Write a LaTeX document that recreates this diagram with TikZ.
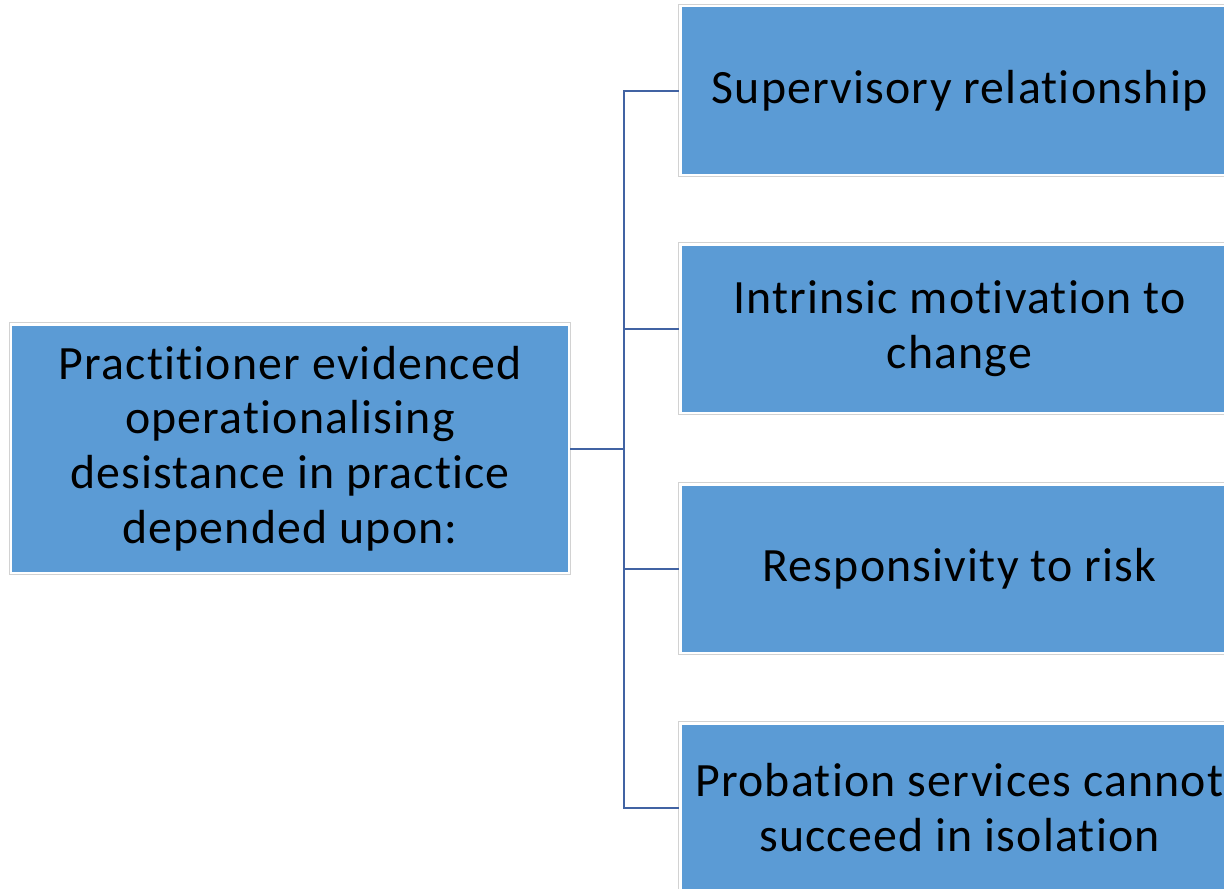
\documentclass[tikz,border=0pt]{standalone}
\usepackage{fontspec}
\setmainfont[Ligatures=NoCommon,LetterSpace=2.5]{Carlito}
\usepackage{tikz}
\usetikzlibrary{calc}

\definecolor{boxblue}{HTML}{5B9BD5}
\definecolor{linkblue}{HTML}{4163A3}
\definecolor{framegray}{HTML}{D2D2D2}

\tikzset{
  topic/.style={fill=boxblue,inner sep=0pt,align=center,
    font=\fontsize{48}{55}\selectfont,text=black},
  frame/.style={draw=framegray,line width=1bp},
  link/.style={draw=linkblue,line width=2bp},
}

\begin{document}
\begin{tikzpicture}[x=1bp,y=-1bp]
\useasboundingbox (0,0) rectangle (1224,889);
\clip (0,0) rectangle (1224,889);
%%
\node (main) at (290,448.5) [topic,minimum width=555bp,minimum height=246bp]
  {Practitioner evidenced\\operationalising\\desistance in practice\\depended upon:};
  \node (sup) at (959.5,90.5) [topic,minimum width=556bp,minimum height=166bp] {Supervisory relationship};
  \node (mot) at (959.5,328.5) [topic,minimum width=556bp,minimum height=166bp] {Intrinsic motivation to\\change};
  \node (risk) at (959.5,568.5) [topic,minimum width=556bp,minimum height=166bp] {Responsivity to risk};
  \node (iso) at (959.5,807.5) [topic,minimum width=556bp,minimum height=166bp] {Probation services cannot\\succeed in isolation};
  \foreach \n in {main,sup,mot,risk,iso}
    \draw [frame] ($(\n.north west)+(-2.5,-2.5)$) rectangle ($(\n.south east)+(2.5,2.5)$);
%%
  \coordinate (tsup) at (624,90.5);
  \coordinate (tmot) at (624,328.5);
  \coordinate (tmain) at (624,448.5);
  \coordinate (trisk) at (624,568.5);
  \coordinate (tiso) at (624,807.5);
  \draw [link] (sup.west) ++(-2.5,0) -- (tsup) -- (tiso) -- ($(iso.west)+(-2.5,0)$);
  \draw [link] ($(mot.west)+(-2.5,0)$) -- (tmot);
  \draw [link] ($(risk.west)+(-2.5,0)$) -- (trisk);
  \draw [link] ($(main.east)+(2.5,0)$) -- (tmain);
%
\end{tikzpicture}
\end{document}
